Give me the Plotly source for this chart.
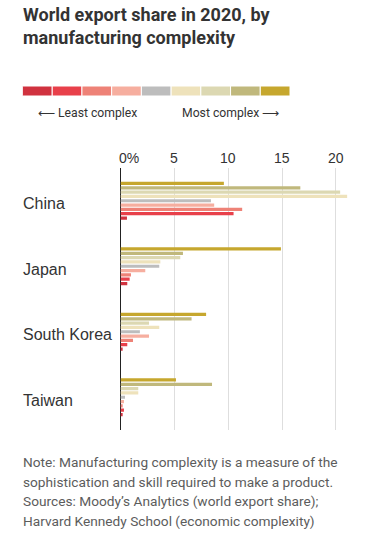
import plotly.graph_objects as go

W, H = 375, 542

countries = ["China", "Japan", "South Korea", "Taiwan"]
levels = ["1", "2", "3", "4", "5", "6", "7", "8", "9"]  # least -> most complex
level_colors = ["#D0323F", "#E8404A", "#EE8277", "#F6AE9F", "#BDBDBD",
                "#EEE2BB", "#DCD8B2", "#C0B87C", "#C6A72E"]

# export share (%) per complexity level (least -> most), one list per level
share_l1 = [0.6, 0.63, 0.2, 0.2]
share_l2 = [10.5, 0.85, 0.63, 0.32]
share_l3 = [11.3, 0.97, 1.16, 0.2]
share_l4 = [8.7, 2.3, 2.65, 0.32]
share_l5 = [8.4, 3.6, 1.8, 0.42]
share_l6 = [21.05, 3.7, 3.6, 1.65]
share_l7 = [20.4, 5.55, 2.65, 1.65]
share_l8 = [16.7, 5.8, 6.6, 8.5]
share_l9 = [9.6, 14.9, 7.95, 5.15]
shares = [share_l1, share_l2, share_l3, share_l4, share_l5,
          share_l6, share_l7, share_l8, share_l9]

tick_values = [0, 5, 10, 15, 20]
tick_labels = ["0%", "5", "10", "15", "20"]

title_lines = ["World export share in 2020, by", "manufacturing complexity"]
note_lines = [
    "Note: Manufacturing complexity is a measure of the",
    "sophistication and skill required to make a product.",
    "Sources: Moody\u2019s Analytics (world export share);",
    "Harvard Kennedy School (economic complexity)",
]

ROB = "Roboto, sans-serif"
REG = "Liberation Sans, Arial, sans-serif"
DARK = "#333333"
GRAY = "#5c5c5c"


def px(x):
    return x / W


def py(y):
    return 1 - y / H


fig = go.Figure()

# main bars, most complex on top of each group
for i in reversed(range(len(levels))):
    fig.add_trace(go.Bar(
        y=countries, x=shares[i], orientation="h",
        marker=dict(color=level_colors[i], line=dict(width=0)),
        name=levels[i], showlegend=False, hoverinfo="skip",
        xaxis="x", yaxis="y",
    ))

# colour key
fig.add_trace(go.Bar(
    x=levels, y=[1] * len(levels), width=[1] * len(levels),
    marker=dict(color=level_colors, line=dict(color="white", width=1)),
    xaxis="x2", yaxis="y2", showlegend=False, hoverinfo="skip",
))

annotations = []
# title
annotations.append(dict(
    text="<b>" + "<br>".join(title_lines) + "</b>", x=px(21), y=py(26),
    xref="paper", yref="paper", xanchor="left", yanchor="middle", align="left",
    showarrow=False, font=dict(family=ROB, size=18, color=DARK)))

# key labels
annotations.append(dict(text="\u27f5 Least complex", x=px(36), y=py(113),
                        xref="paper", yref="paper", xanchor="left", yanchor="middle",
                        showarrow=False, font=dict(family=ROB, size=12.2, color=DARK)))
annotations.append(dict(text="Most complex \u27f6", x=px(180), y=py(113),
                        xref="paper", yref="paper", xanchor="left", yanchor="middle",
                        showarrow=False, font=dict(family=ROB, size=12.2, color=DARK)))

# tick labels
for v, t in zip(tick_values, tick_labels):
    annotations.append(dict(
        text=t, x=v, xref="x", y=py(158), yref="paper",
        xanchor="left" if v == 0 else "center", xshift=-4 if v == 0 else 0,
        yanchor="middle", showarrow=False,
        font=dict(family=REG, size=14, color=DARK)))

# country labels
for c in countries:
    annotations.append(dict(
        text=c, x=px(21), xref="paper", y=c, yref="y", yshift=-3,
        xanchor="left", yanchor="middle", showarrow=False,
        font=dict(family=REG, size=16, color=DARK)))

# note
for k, line in enumerate(note_lines):
    annotations.append(dict(
        text=line, x=px(21), y=py(462 + k * 19.5), xref="paper", yref="paper",
        xanchor="left", yanchor="middle", showarrow=False,
        font=dict(family=ROB, size=13.7, color=GRAY)))

fig.update_layout(
    width=W, height=H,
    margin=dict(l=0, r=0, t=0, b=0, autoexpand=False),
    paper_bgcolor="white", plot_bgcolor="white",
    barmode="group", bargap=0.405, bargroupgap=0.25,
    hovermode=False,
    xaxis=dict(domain=[px(120.5), px(352)], range=[0, 21.5],
               showticklabels=False, ticks="", tickvals=tick_values,
               showgrid=True, gridcolor="#dedede", gridwidth=1,
               zeroline=True, zerolinecolor="#222222", zerolinewidth=1.5,
               showline=False, fixedrange=True),
    yaxis=dict(domain=[py(430), py(168)], categoryorder="array",
               categoryarray=countries, autorange="reversed",
               showticklabels=False, showgrid=False, zeroline=False,
               showline=False, fixedrange=True),
    xaxis2=dict(domain=[px(22.5), px(290)], range=[-0.5, 8.5], anchor="y2",
                visible=False, fixedrange=True),
    yaxis2=dict(domain=[py(96), py(86)], range=[0, 1], anchor="x2",
                visible=False, fixedrange=True),
    annotations=annotations,
)

# remove the default page margin so the 375x542 figure fills the window
fig.write_html("out.html",
               config={"displayModeBar": False, "staticPlot": True},
               post_script="document.body.style.margin='0px';document.body.style.overflow='hidden';")
